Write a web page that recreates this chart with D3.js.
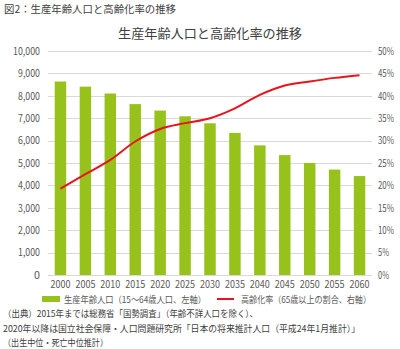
<!DOCTYPE html>
<html><head><meta charset="utf-8">
<script src="https://cdn.jsdelivr.net/npm/d3@7"></script>
<style>
body{margin:0;background:#fff;}
text{font-family:"Noto Sans CJK JP","Noto Sans",sans-serif;}
</style></head>
<body><svg id="c" width="400" height="349"></svg>
<script>
const years = ["2000","2005","2010","2015","2020","2025","2030","2035","2040","2045","2050","2055","2060"];
const workingPop = [8638,8409,8103,7629,7341,7085,6773,6343,5787,5353,5001,4706,4418];
const agingRate = [19.3,22.5,25.7,29.8,32.6,33.9,35.0,37.2,40.2,42.3,43.2,44.0,44.6];
const leftTicks = [0,1000,2000,3000,4000,5000,6000,7000,8000,9000,10000];
const rightTicks = [0,5,10,15,20,25,30,35,40,45,50];
const figTitle = "図2：生産年齢人口と高齢化率の推移";
const chartTitle = "生産年齢人口と高齢化率の推移";
const legendBar = "生産年齢人口（15～64歳人口、左軸）";
const legendLine = "高齢化率（65歳以上の割合、右軸）";
const notes = ["（出典）2015年までは総務省「国勢調査」（年齢不詳人口を除く）、",
  "2020年以降は国立社会保障・人口問題研究所「日本の将来推計人口（平成24年1月推計）」",
  "（出生中位・死亡中位推計）"];

const svg = d3.select("#c");
const L = 48, R = 372, T = 51, B = 275;
const x = d3.scaleBand().domain(years).range([L, R]).paddingInner(0.54).paddingOuter(0.27);
const yL = d3.scaleLinear().domain([0,10000]).range([B,T]);
const yR = d3.scaleLinear().domain([0,50]).range([B,T]);
const grey = "#595959";
const fit = (sel, w) => sel.attr("textLength", w).attr("lengthAdjust","spacingAndGlyphs");

fit(svg.append("text").attr("x",4).attr("y",13).attr("font-size",10).attr("fill","#404040").text(figTitle),172);
fit(svg.append("text").attr("x",210).attr("y",38).attr("text-anchor","middle").attr("font-size",13).attr("fill","#404040").text(chartTitle),184);

// gridlines
svg.append("g").selectAll("line").data(leftTicks).join("line")
  .attr("x1",L).attr("x2",R).attr("y1",d=>Math.round(yL(d))+0.5).attr("y2",d=>Math.round(yL(d))+0.5)
  .attr("stroke","#d9d9d9").attr("stroke-width",1);

// left axis
const gl = svg.append("g").attr("transform",`translate(${L-4},0)`)
  .call(d3.axisLeft(yL).tickValues(leftTicks).tickSize(0).tickPadding(4).tickFormat(d3.format(",")));
gl.select(".domain").remove();
gl.selectAll("text").attr("font-size",10).attr("fill",grey).attr("font-family","'Noto Sans CJK JP',sans-serif")
  .attr("textLength",d=>d>=10000?27:d>0?22:6).attr("lengthAdjust","spacingAndGlyphs");

// right axis
const gr = svg.append("g").attr("transform",`translate(${R+2},0)`)
  .call(d3.axisRight(yR).tickValues(rightTicks).tickSize(0).tickPadding(4).tickFormat(d=>d+"%"));
gr.select(".domain").remove();
gr.selectAll("text").attr("font-size",10).attr("fill",grey).attr("font-family","'Noto Sans CJK JP',sans-serif")
  .attr("textLength",d=>d>=10?16:11).attr("lengthAdjust","spacingAndGlyphs");

// bars
svg.append("g").selectAll("rect").data(years).join("rect")
  .attr("x",d=>x(d)).attr("width",x.bandwidth())
  .attr("y",(d,i)=>yL(workingPop[i])).attr("height",(d,i)=>B-yL(workingPop[i]))
  .attr("fill","#97c21c");

// bottom axis
const gb = svg.append("g").attr("transform",`translate(0,${B})`)
  .call(d3.axisBottom(x).tickSize(0).tickPadding(6));
gb.select(".domain").remove();
gb.selectAll("text").attr("font-size",10).attr("fill",grey).attr("font-family","'Noto Sans CJK JP',sans-serif")
  .attr("textLength",20).attr("lengthAdjust","spacingAndGlyphs");

// line
const line = d3.line().x((d,i)=>x(years[i])+x.bandwidth()/2).y(d=>yR(d)).curve(d3.curveMonotoneX);
svg.append("path").datum(agingRate).attr("d",line).attr("fill","none").attr("stroke","#e8141c").attr("stroke-width",2);

// legend
const ly = 299;
svg.append("rect").attr("x",42).attr("y",ly-3).attr("width",18).attr("height",6).attr("fill","#97c21c");
fit(svg.append("text").attr("x",64).attr("y",ly+3.5).attr("font-size",9).attr("fill",grey).text(legendBar),142);
svg.append("line").attr("x1",217).attr("x2",234).attr("y1",ly).attr("y2",ly).attr("stroke","#e8141c").attr("stroke-width",2);
fit(svg.append("text").attr("x",241).attr("y",ly+3.5).attr("font-size",9).attr("fill",grey).text(legendLine),130);

// notes
const noteW = [255,357,105];
svg.append("g").selectAll("text").data(notes).join("text")
  .attr("x",3).attr("y",(d,i)=>317+i*14.5).attr("font-size",9).attr("fill","#404040").text(d=>d)
  .attr("textLength",(d,i)=>noteW[i]).attr("lengthAdjust","spacingAndGlyphs");
</script></body></html>
